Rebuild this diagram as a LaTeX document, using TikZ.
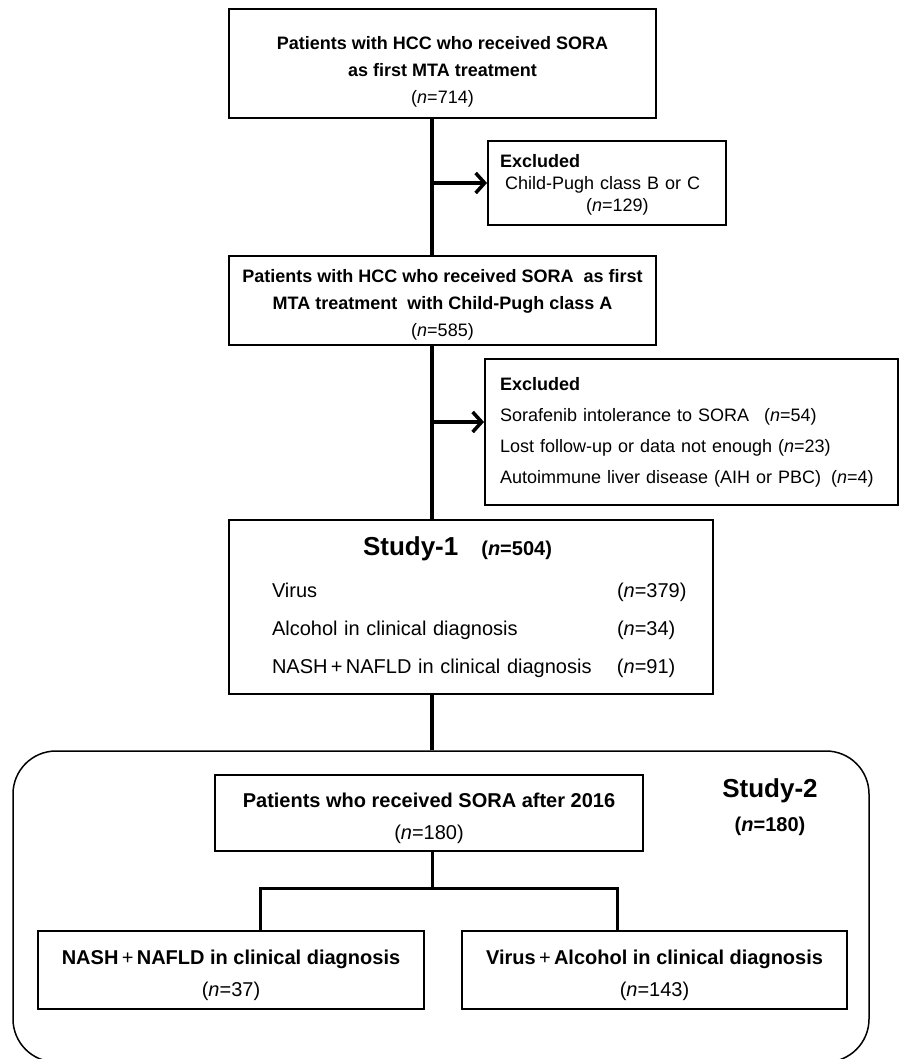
\documentclass[tikz,border=0pt]{standalone}
\usepackage{fontspec}
\setmainfont{Liberation Sans}
\usetikzlibrary{positioning,arrows.meta}
\newcommand{\ncount}[1]{(\textit{n}=#1)}
\newcommand{\toppad}[1]{\rule{0pt}{#1}}
\tikzset{
flowbox/.style={draw, line width=2pt, inner sep=0pt, font=\fontsize{18}{27}\selectfont},
exclbox/.style={flowbox, align=left, inner xsep=12pt},
link/.style={line width=3.5pt},
forkline/.style={line width=3pt},
outlink/.style={link, -{Straight Barb[length=9pt,width=20pt]}},
}
\begin{document}
\begin{tikzpicture}[x=1pt,y=-1pt]
\useasboundingbox (0,0) rectangle (899,1059);
\node[flowbox, align=center, minimum width=427pt, minimum height=109pt](box1) at (442.5,63.5)
  {\toppad{29pt}\textbf{Patients with HCC who received SORA}\\\textbf{as first MTA treatment}\\\ncount{714}};
\node[flowbox, align=center, minimum width=427pt, minimum height=89pt, below=136pt of box1](box2)
  {\toppad{22pt}\textbf{Patients with HCC who received SORA\ \ as first}\\\textbf{MTA treatment\ \ with Child-Pugh class A}\\\ncount{585}};
\node[flowbox, align=left, text width=398pt, inner xsep=43pt, minimum height=174pt,
  font=\fontsize{20}{38}\selectfont, below=173pt of box2.south west, anchor=north west](study1)
  {\hspace*{91pt}{\fontsize{26}{30}\selectfont\bfseries Study-1}\hspace{23pt}{\bfseries\ncount{504}}\\[4pt]
   \makebox[345pt][l]{Virus}\rlap{\ncount{379}}\\
   \makebox[345pt][l]{Alcohol in clinical diagnosis}\rlap{\ncount{34}}\\
   \makebox[345pt][l]{NASH\,+\,NAFLD in clinical diagnosis}\rlap{\ncount{91}}};
\coordinate (j1) at (432,183);
\coordinate (j2) at (432,422);
\node[exclbox, text width=214pt, minimum height=84pt, font=\fontsize{18}{22}\selectfont, right=55pt of j1](excl1)
  {\toppad{17pt}\textbf{Excluded}\\\hspace*{5pt}Child-Pugh class B or C\\\hspace*{86pt}\ncount{129}};
\node[exclbox, text width=383pt, inner xsep=15pt, minimum height=146pt, font=\fontsize{18}{31}\selectfont,
  right=52pt of j2, yshift=-10pt](excl2)
  {\textbf{Excluded}\\Sorafenib intolerance to SORA\hspace{15pt}\ncount{54}\\
   Lost follow-up or data not enough \ncount{23}\\
   Autoimmune liver disease (AIH or PBC)\hspace{10pt}\ncount{4}};
\node[draw, line width=1.5pt, rounded corners=43pt, inner sep=0pt, minimum width=856pt, minimum height=311pt](study2) at (441,906.5) {};
\node[align=center, font=\fontsize{20}{34}\selectfont\bfseries](study2lbl) at (770,807)
  {{\fontsize{26}{30}\selectfont Study-2}\\\ncount{180}};
\node[flowbox, align=center, minimum width=428pt, minimum height=76pt, font=\fontsize{20}{32}\selectfont](sub) at (429,813)
  {\toppad{25pt}\textbf{Patients who received SORA after 2016}\\\ncount{180}};
\node[flowbox, align=center, minimum width=386pt, minimum height=78pt, font=\fontsize{20}{32}\selectfont](nafld) at (231,970)
  {\toppad{26pt}\textbf{NASH\,{\mdseries+}\,NAFLD in clinical diagnosis}\\\ncount{37}};
\node[flowbox, align=center, minimum width=385pt, minimum height=78pt, font=\fontsize{20}{32}\selectfont](virus) at (654.5,970)
  {\toppad{26pt}\textbf{Virus\,{\mdseries+}\,Alcohol in clinical diagnosis}\\\ncount{143}};
\coordinate (fork) at (432,888);
\coordinate (forkL) at (260,888);
\coordinate (forkR) at (617,888);
\draw[link] (box1.south -| j1) -- (box2.north -| j1);
\draw[outlink] (j1) -- (excl1.west);
\draw[link] (box2.south -| j1) -- (study1.north -| j1);
\draw[outlink] (j2) -- (excl2.west |- j2);
\draw[link] (study1.south -| j1) -- (study2.north -| j1);
\draw[forkline] (sub.south -| fork) -- (fork);
\draw[forkline] (nafld.north -| forkL) -- (forkL) -- (forkR) -- (virus.north -| forkR);
\end{tikzpicture}
\end{document}
